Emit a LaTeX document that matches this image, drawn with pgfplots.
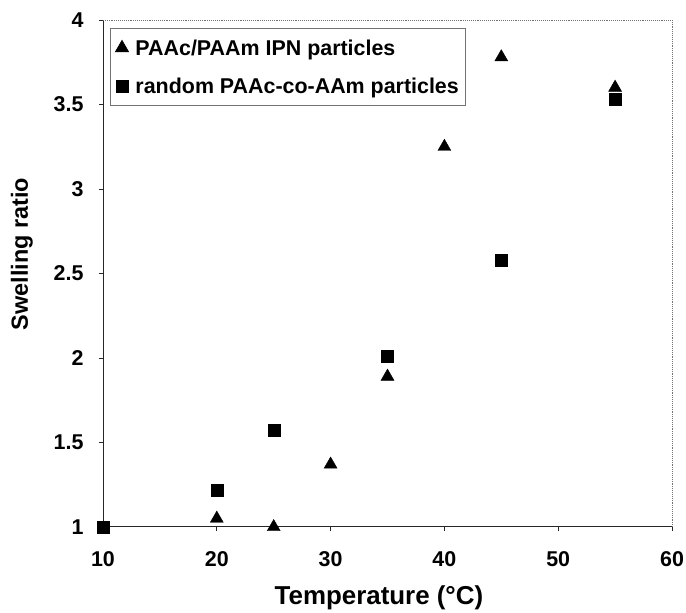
\documentclass[border=0pt]{standalone}
\usepackage{fontspec}
\setmainfont{Liberation Sans}
\usepackage{pgfplots}
\pgfplotsset{compat=1.18}
\begin{document}
\begin{tikzpicture}[x=1bp,y=1bp]
\begin{axis}[
  at={(103bp,86bp)}, anchor=south west,
  scale only axis, width=569bp, height=507bp,
  xmin=10, xmax=60, ymin=1, ymax=4,
  xtick={10,20,...,60}, ytick={1,1.5,...,4},
  axis x line*=bottom, axis y line*=left,
  axis line style={-, black!85, line width=1bp},
  tick align=outside, major tick length=4bp,
  tick style={black!85, line width=0.8bp},
  /pgf/number format/assume math mode=true,
  ticklabel style={font=\fontsize{21.5}{24}\selectfont\bfseries},
  xticklabel style={yshift=-17bp},
  yticklabel style={xshift=-12bp},
  xlabel={Temperature (°C)}, ylabel={Swelling ratio},
  xlabel style={font=\fontsize{26}{29}\selectfont\bfseries, at={(rel axis cs:0.485,0)}, anchor=base, yshift=-78bp},
  ylabel style={font=\fontsize{23.5}{26}\selectfont\bfseries, at={(rel axis cs:-0.1424,0.538)}, anchor=center},
  legend style={at={(0.0125,0.984)}, anchor=north west, draw=black!55, line width=0.8bp,
    font=\fontsize{21.5}{24}\selectfont\bfseries, row sep=17bp, inner xsep=5bp, inner ysep=9bp,
    /tikz/every odd column/.append style={column sep=5bp}},
  legend cell align=left,
  clip=false,
]
\addplot[only marks, mark=triangle*, mark size=7.5bp, black] coordinates {
  (20,1.05) (25,1.0) (30,1.37) (35,1.89) (40,3.25) (45,3.78) (55,3.60)};
\addlegendentry{PAAc/PAAm IPN particles}
\addplot[only marks, mark=square*, mark size=6bp, black] coordinates {
  (10,1.0) (20,1.22) (25,1.57) (35,2.01) (45,2.58) (55,3.53)};
\addlegendentry{random PAAc-co-AAm particles}
\draw[black!55, line width=0.9bp, densely dotted] (rel axis cs:0,1) -- (rel axis cs:1,1) -- (rel axis cs:1,0);
\end{axis}
\pgfresetboundingbox
\path[use as bounding box] (0,0) rectangle (686,613);
\end{tikzpicture}
\end{document}
